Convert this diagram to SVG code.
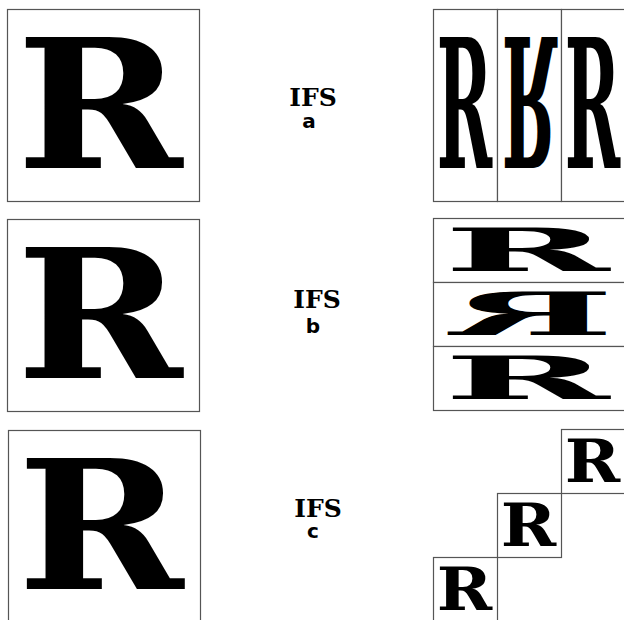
<svg xmlns="http://www.w3.org/2000/svg" width="624" height="620" viewBox="0 0 624 620">
<style>
.box{fill:#fff;stroke:#555;stroke-width:1.2}
.R{font-family:"DejaVu Serif","Liberation Serif",serif;font-weight:bold;font-size:100px;text-anchor:middle;fill:#000}
.ifs{font-family:"DejaVu Serif","Liberation Serif",serif;font-weight:bold;font-size:25px;text-anchor:middle;fill:#000}
.lbl{font-family:"DejaVu Sans","Liberation Sans",sans-serif;font-weight:bold;font-size:20px;text-anchor:middle;fill:#000}
</style>
<rect width="624" height="620" fill="#fff"/>

<g id="row-a-source">
<rect class="box" x="7.5" y="9.5" width="192" height="192"/>
<text class="R" transform="translate(99.5,168) scale(2.0,1.8)">R</text>
</g>
<g id="row-a-label">
<text class="ifs" x="313" y="106">IFS</text>
<text class="lbl" x="309" y="128">a</text>
</g>
<g id="row-a-result">
<rect class="box" x="433.5" y="9.5" width="64" height="192"/>
<rect class="box" x="497.5" y="9.5" width="64" height="192"/>
<rect class="box" x="561.5" y="9.5" width="64" height="192"/>
<text class="R" transform="translate(464.5,168) scale(0.667,1.8)">R</text>
<text class="R" transform="translate(529.5,37) scale(0.667,-1.8)">R</text>
<text class="R" transform="translate(592.5,168) scale(0.667,1.8)">R</text>
</g>

<g id="row-b-source">
<rect class="box" x="7.5" y="219.5" width="192" height="192"/>
<text class="R" transform="translate(99.5,378) scale(2.0,1.8)">R</text>
</g>
<g id="row-b-label">
<text class="ifs" x="317" y="308">IFS</text>
<text class="lbl" x="313" y="333">b</text>
</g>
<g id="row-b-result">
<rect class="box" x="433.5" y="218.5" width="192" height="64"/>
<rect class="box" x="433.5" y="282.5" width="192" height="64"/>
<rect class="box" x="433.5" y="346.5" width="192" height="64"/>
<text class="R" transform="translate(526.5,271.3) scale(2.0,0.6)">R</text>
<text class="R" transform="translate(532,335.3) scale(-2.0,0.6)">R</text>
<text class="R" transform="translate(526.5,399.3) scale(2.0,0.6)">R</text>
</g>

<g id="row-c-source">
<rect class="box" x="8.5" y="430.5" width="192" height="192"/>
<text class="R" transform="translate(100.5,589) scale(2.0,1.8)">R</text>
</g>
<g id="row-c-label">
<text class="ifs" x="318" y="517">IFS</text>
<text class="lbl" x="313" y="538">c</text>
</g>
<g id="row-c-result">
<rect class="box" x="561.5" y="429.5" width="64" height="64"/>
<rect class="box" x="497.5" y="493.5" width="64" height="64"/>
<rect class="box" x="433.5" y="557.5" width="64" height="64"/>
<text class="R" transform="translate(592.5,482.3) scale(0.667,0.6)">R</text>
<text class="R" transform="translate(528.5,546.3) scale(0.667,0.6)">R</text>
<text class="R" transform="translate(464.5,610.3) scale(0.667,0.6)">R</text>
</g>
</svg>
